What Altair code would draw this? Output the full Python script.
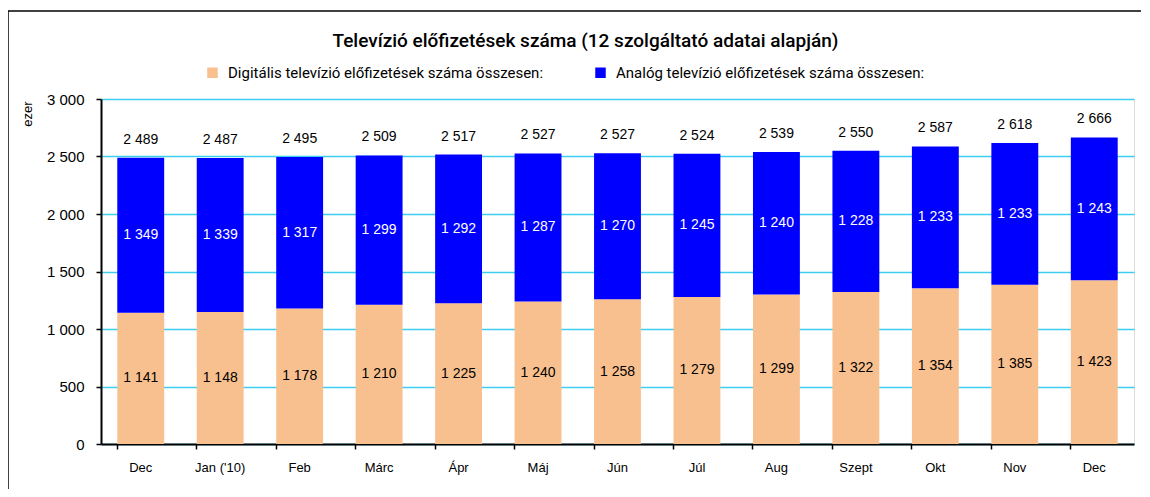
import json
import altair as alt
import pandas as pd

months = ["Dec", "Jan ('10)", "Feb", "Márc", "Ápr", "Máj", "Jún", "Júl", "Aug", "Szept", "Okt", "Nov", "Dec"]
digital = [1141, 1148, 1178, 1210, 1225, 1240, 1258, 1279, 1299, 1322, 1354, 1385, 1423]
analog = [1349, 1339, 1317, 1299, 1292, 1287, 1270, 1245, 1240, 1228, 1233, 1233, 1243]
totals = [2489, 2487, 2495, 2509, 2517, 2527, 2527, 2524, 2539, 2550, 2587, 2618, 2666]

s_dig = "Digitális televízió előfizetések száma összesen:"
s_ana = "Analóg televízió előfizetések száma összesen:"
y_ticks = [0, 500, 1000, 1500, 2000, 2500, 3000]


def fmt(v):
    return f"{v:,}".replace(",", " ")


rows = []
for i, m in enumerate(months):
    rows.append({"idx": i, "series": s_dig, "ord": 0, "value": digital[i],
                 "mid": digital[i] / 2, "label": fmt(digital[i])})
    rows.append({"idx": i, "series": s_ana, "ord": 1, "value": analog[i],
                 "mid": digital[i] + analog[i] / 2, "label": fmt(analog[i])})
df = pd.DataFrame(rows)
tot = pd.DataFrame({"idx": list(range(len(months))), "total": totals,
                    "label": [fmt(t) for t in totals]})

label_expr = json.dumps(months, ensure_ascii=False) + "[datum.value]"

x_enc = alt.X("idx:O", title=None,
              scale=alt.Scale(paddingInner=0.41, paddingOuter=0.205),
              axis=alt.Axis(labelExpr=label_expr, labelAngle=0, bandPosition=0,
                            labelFontSize=13, labelPadding=12, tickSize=5,
                            domainColor="black", domainWidth=2, tickColor="black",
                            tickWidth=1.5, labelColor="#000", labelFont="Liberation Sans"))
y_scale = alt.Scale(domain=[0, 3000], nice=False)

bars = alt.Chart(df).mark_bar().encode(
    x=x_enc,
    y=alt.Y("value:Q", stack="zero", scale=y_scale, title="ezer",
            axis=alt.Axis(values=y_ticks,
                          labelExpr="replace(format(datum.value, ','), ',', ' ')",
                          labelFontSize=15, labelPadding=12, tickSize=5,
                          domainColor="black", domainWidth=2, tickColor="black",
                          tickWidth=1.5, labelColor="#000", labelFont="Liberation Sans",
                          grid=True, gridColor="#3ccdf0", gridWidth=1.5,
                          titleAngle=-90, titleX=-74, titleY=2, titleAlign="right",
                          titleBaseline="middle", titleFontSize=13,
                          titleFontWeight="normal", titleFont="Liberation Sans",
                          titleColor="#000")),
    color=alt.Color("series:N",
                    scale=alt.Scale(domain=[s_dig, s_ana], range=["#F9C08F", "#0000FF"]),
                    legend=alt.Legend(title=None, orient="none", direction="horizontal",
                                      legendX=104, legendY=-34, columns=2,
                                      columnPadding=49, symbolType="square",
                                      symbolSize=110, symbolStrokeWidth=0,
                                      labelFontSize=15, labelFont="Roboto",
                                      labelColor="#000", labelOffset=8, labelLimit=500)),
    order=alt.Order("ord:Q"),
)

seg_text = alt.Chart(df).mark_text(fontSize=14, font="Liberation Sans", baseline="middle").encode(
    x="idx:O",
    y=alt.Y("mid:Q", scale=y_scale),
    text="label:N",
    color=alt.Color("series:N",
                    scale=alt.Scale(domain=[s_dig, s_ana], range=["#000000", "#FFFFFF"]),
                    legend=None),
)

tot_text = alt.Chart(tot).mark_text(fontSize=14, font="Liberation Sans", baseline="bottom",
                                    dy=-11, color="#000").encode(
    x="idx:O",
    y=alt.Y("total:Q", scale=y_scale),
    text="label:N",
)

frame = pd.DataFrame({"k": [0]})
top_border = alt.Chart(frame).mark_rule(color="black", strokeWidth=1.5, clip=False).encode(
    x=alt.value(-93), x2=alt.value(1040), y=alt.value(-88))
left_border = alt.Chart(frame).mark_rule(color="black", strokeWidth=1.5, clip=False).encode(
    x=alt.value(-93), y=alt.value(-88), y2=alt.value(400))

chart = alt.layer(bars, seg_text, tot_text, top_border, left_border).resolve_scale(
    color="independent"
).properties(
    width=1033, height=345,
    title=alt.TitleParams("Televízió előfizetések száma (12 szolgáltató adatai alapján)",
                          font="Roboto", fontSize=19, fontWeight=500,
                          color="#000", anchor="middle", frame="group", dx=-32, offset=-41),
    autosize=alt.AutoSizeParams(type="none"),
    padding={"left": 93, "top": 91, "right": 8, "bottom": 45},
).configure_view(stroke="#a0a0a0", strokeWidth=1).configure(background="white")

chart.save("out.html", embed_options={"renderer": "svg", "actions": False})
